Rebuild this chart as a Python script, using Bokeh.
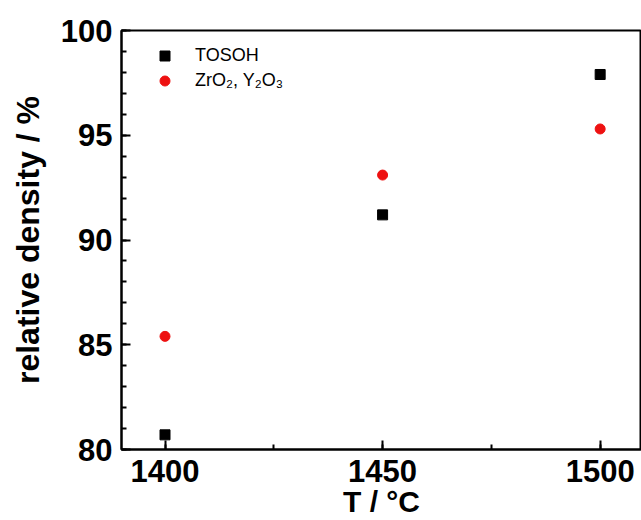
from bokeh.plotting import figure
from bokeh.models import Range1d, SingleIntervalTicker, Legend, LegendItem
from bokeh.embed import file_html
from bokeh.resources import INLINE

temps = [1400, 1450, 1500]
tosoh = [80.7, 91.2, 97.9]
zro2_y2o3 = [85.4, 93.1, 95.3]
series_names = ["TOSOH", "ZrO\u2082, Y\u2082O\u2083"]
x_label = "T / \u00b0C"
y_label = "relative density / %"

FONT = "Liberation Sans"

p = figure(width=641, height=520, output_backend="svg", toolbar_location=None,
           x_range=Range1d(1390, 1509.5), y_range=Range1d(80, 100),
           min_border_left=121, min_border_right=0, min_border_top=30,
           min_border_bottom=71)
p.xgrid.visible = False
p.ygrid.visible = False
p.outline_line_color = "black"
p.outline_line_width = 2
p.background_fill_color = "white"
p.border_fill_color = "white"

r1 = p.scatter(temps, tosoh, marker="square", size=10, color="black")
r2 = p.scatter(temps, zro2_y2o3, marker="circle", size=10, color="#ee1111")

p.xaxis.ticker = SingleIntervalTicker(interval=50, num_minor_ticks=2)
p.yaxis.ticker = SingleIntervalTicker(interval=5, num_minor_ticks=5)
for ax in (p.xaxis[0], p.yaxis[0]):
    ax.axis_line_width = 2
    ax.axis_line_color = "black"
    ax.major_tick_in = 9
    ax.major_tick_out = 0
    ax.minor_tick_in = 5
    ax.minor_tick_out = 0
    ax.major_tick_line_width = 2
    ax.minor_tick_line_width = 2
    ax.major_label_text_font = FONT
    ax.major_label_text_font_style = "bold"
    ax.major_label_text_font_size = "31px"
    ax.major_label_text_color = "black"
    ax.axis_label_text_font = FONT
    ax.axis_label_text_font_style = "bold"
    ax.axis_label_text_color = "black"
p.xaxis.major_label_standoff = 10
p.yaxis.major_label_standoff = 9

p.yaxis.axis_label = y_label
p.yaxis.axis_label_text_font_size = "32px"
p.yaxis.axis_label_standoff = 12
p.xaxis.axis_label = x_label
p.xaxis.axis_label_text_font_size = "30px"
p.xaxis.axis_label_standoff = 0

legend = Legend(items=[LegendItem(label=series_names[0], renderers=[r1]),
                       LegendItem(label=series_names[1], renderers=[r2])],
                location="top_left", margin=13, padding=0,
                glyph_width=61, glyph_height=25, label_standoff=0, spacing=0,
                border_line_color=None, background_fill_alpha=0,
                label_text_font=FONT, label_text_font_size="18px",
                label_text_color="black")
p.add_layout(legend)

open("out.html", "w").write(file_html(p, INLINE))
